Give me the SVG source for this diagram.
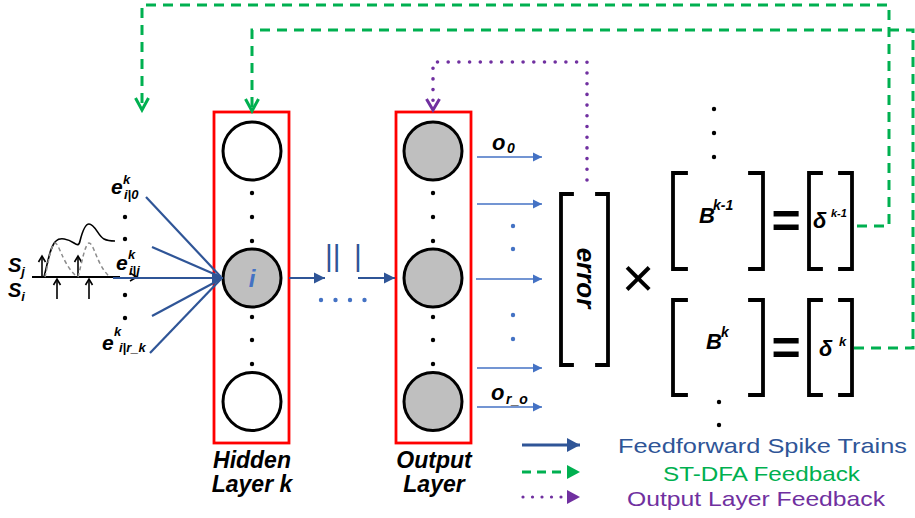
<svg xmlns="http://www.w3.org/2000/svg" width="915" height="518" viewBox="0 0 915 518">
<style>
.bi{font-family:"Liberation Sans",Arial,sans-serif;font-weight:bold;font-style:italic;fill:#000}
.lg{font-family:"Liberation Sans",Arial,sans-serif;font-size:21px}
.box{fill:none;stroke:#FF0000;stroke-width:2.8}
.cw{fill:#fff;stroke:#000;stroke-width:3}
.cg{fill:#BFBFBF;stroke:#000;stroke-width:3}
.br{fill:none;stroke:#000;stroke-width:3.8;stroke-linecap:square}
.dot{fill:#000}
.bd{fill:#4472C4}
.ff{fill:none;stroke:#2F5597;stroke-width:2.2}
.out{fill:none;stroke:#4472C4;stroke-width:1.6}
.gd{fill:none;stroke:#00B050;stroke-width:3;stroke-dasharray:10 7}
.pd{fill:none;stroke:#7030A0;stroke-width:3.6;stroke-linecap:round;stroke-dasharray:0 10.7}
.eq{font-family:"Liberation Sans",Arial,sans-serif;font-size:50px;font-weight:bold}
</style>
<defs>
<marker id="ab" markerUnits="userSpaceOnUse" markerWidth="16" markerHeight="14" viewBox="-12 -7 14 14" refX="0" refY="0" orient="auto"><path d="M-11,-5.5 L0,0 L-11,5.5 z" fill="#2F5597"/></marker>
<marker id="al" markerUnits="userSpaceOnUse" markerWidth="12" markerHeight="10" viewBox="-10 -5 11 10" refX="0" refY="0" orient="auto"><path d="M-9,-4.5 L0,0 L-9,4.5 z" fill="#4472C4"/></marker>
<marker id="ag" markerUnits="userSpaceOnUse" markerWidth="18" markerHeight="20" viewBox="-15 -10 18 20" refX="0" refY="0" orient="auto"><path d="M-12,-6.5 L0,0 L-12,6.5" fill="none" stroke="#00B050" stroke-width="3"/></marker>
<marker id="ap" markerUnits="userSpaceOnUse" markerWidth="18" markerHeight="20" viewBox="-15 -10 18 20" refX="0" refY="0" orient="auto"><path d="M-11,-6.5 L0,0 L-11,6.5" fill="none" stroke="#7030A0" stroke-width="3"/></marker>
<marker id="lb" markerUnits="userSpaceOnUse" markerWidth="16" markerHeight="16" viewBox="-14 -8 16 16" refX="0" refY="0" orient="auto"><path d="M-13,-7 L0,0 L-13,7 z" fill="#2F5597"/></marker>
<marker id="lgm" markerUnits="userSpaceOnUse" markerWidth="16" markerHeight="16" viewBox="-14 -8 16 16" refX="0" refY="0" orient="auto"><path d="M-13,-7 L0,0 L-13,7 z" fill="#00B050"/></marker>
<marker id="lp" markerUnits="userSpaceOnUse" markerWidth="16" markerHeight="16" viewBox="-14 -8 16 16" refX="0" refY="0" orient="auto"><path d="M-13,-7 L0,0 L-13,7 z" fill="#7030A0"/></marker>
</defs>

<!-- spike train inset -->
<g id="spikes">
<line x1="32" y1="277" x2="120" y2="277" stroke="#000" stroke-width="1.8"/>
<path d="M130,273 L137,277 L130,281" fill="none" stroke="#000" stroke-width="1.5"/>
<g stroke="#000" stroke-width="1.6" fill="none">
<line x1="42" y1="277" x2="42" y2="257"/><path d="M38.5,262 L42,256 L45.5,262"/>
<line x1="78" y1="277" x2="78" y2="257"/><path d="M74.5,262 L78,256 L81.5,262"/>
<line x1="57" y1="299" x2="57" y2="280"/><path d="M53.5,285 L57,279 L60.5,285"/>
<line x1="89" y1="299" x2="89" y2="280"/><path d="M85.5,285 L89,279 L92.5,285"/>
</g>
<path d="M44,277 C48,262 50,246 56,241 C60,237 68,239 74,243 C77,245 79,246 80,241 C82,233 85,224 89,224 C95,224 98,236 104,239 C108,241 112,241 115,241" fill="none" stroke="#000" stroke-width="1.6"/>
<path d="M45,277 C48,264 51,244 55,243 C59,243 62,262 75,275 M78,277 C82,262 85,244 89,243 C94,243 97,266 110,277" fill="none" stroke="#8C8C8C" stroke-width="1.5" stroke-dasharray="4 3"/>
<text class="bi" x="8" y="272" font-size="20">S<tspan font-size="13" dy="4">j</tspan></text>
<text class="bi" x="8" y="297" font-size="20">S<tspan font-size="13" dy="4">i</tspan></text>
</g>

<!-- input labels -->
<g id="inputs">
<text class="bi" font-size="21"><tspan x="111" y="194">e</tspan><tspan x="123" y="184" font-size="13">k</tspan><tspan x="124" y="199" font-size="13">i|0</tspan></text>
<text class="bi" font-size="21"><tspan x="116" y="270">e</tspan><tspan x="128" y="259" font-size="13">k</tspan><tspan x="129" y="275" font-size="13">i|j</tspan></text>
<text class="bi" font-size="21"><tspan x="102" y="350">e</tspan><tspan x="114" y="336" font-size="13">k</tspan><tspan x="119" y="352" font-size="13">i|r_k</tspan></text>
<circle class="dot" cx="125" cy="217" r="2.2"/>
<circle class="dot" cx="125" cy="239" r="2.2"/>
<circle class="dot" cx="125" cy="295" r="2.2"/>
<circle class="dot" cx="125" cy="318" r="2.2"/>
</g>

<!-- hidden layer -->
<g id="hidden-layer">
<rect class="box" x="214" y="112" width="75" height="331"/>
<circle class="cw" cx="252" cy="151" r="29"/>
<circle class="cg" cx="252" cy="278" r="29"/>
<circle class="cw" cx="252" cy="401.5" r="29"/>
<g class="dot"><circle cx="252" cy="193" r="2.2"/><circle cx="252" cy="217" r="2.2"/><circle cx="252" cy="241" r="2.2"/><circle cx="252" cy="317" r="2.2"/><circle cx="252" cy="340" r="2.2"/><circle cx="252" cy="364" r="2.2"/></g>
<text class="bi" x="252" y="287" font-size="24" text-anchor="middle" style="fill:#4472C4">i</text>
<text class="bi" x="252" y="468" font-size="23" text-anchor="middle">Hidden</text>
<text class="bi" x="252" y="492" font-size="23" text-anchor="middle">Layer k</text>
</g>

<!-- output layer -->
<g id="output-layer">
<rect class="box" x="396" y="112" width="75" height="331"/>
<circle class="cg" cx="433" cy="151" r="29"/>
<circle class="cg" cx="433" cy="278" r="29"/>
<circle class="cg" cx="433" cy="401.5" r="29"/>
<g class="dot"><circle cx="433" cy="193" r="2.2"/><circle cx="433" cy="217" r="2.2"/><circle cx="433" cy="241" r="2.2"/><circle cx="433" cy="317" r="2.2"/><circle cx="433" cy="340" r="2.2"/><circle cx="433" cy="364" r="2.2"/></g>
<text class="bi" x="434" y="468" font-size="23" text-anchor="middle">Output</text>
<text class="bi" x="434" y="492" font-size="23" text-anchor="middle">Layer</text>
<text class="bi" font-size="22"><tspan x="492" y="150">o</tspan><tspan x="507" y="153" font-size="14">0</tspan></text>
<text class="bi" font-size="22"><tspan x="491" y="400">o</tspan><tspan x="506" y="404" font-size="14">r_o</tspan></text>
<g class="bd"><circle cx="513" cy="226" r="2.2"/><circle cx="513" cy="249" r="2.2"/><circle cx="513" cy="315" r="2.2"/><circle cx="513" cy="339" r="2.2"/></g>
</g>

<!-- error x B = delta -->
<g id="error">
<path class="br" d="M572,194 H561 V365 H572 M597,194 H608 V365 H597"/>
<text class="bi" font-size="26" text-anchor="middle" transform="translate(577,278) rotate(90)">error</text>
</g>
<g id="times">
<text x="638" y="297" font-family="Liberation Sans,Arial,sans-serif" font-size="56" text-anchor="middle">×</text>
</g>
<g id="B-k-1">
<path class="br" d="M686,173 H673 V269 H686 M750,173 H763 V269 H750"/>
<text class="bi" font-size="22"><tspan x="699" y="223">B</tspan><tspan x="713" y="210" font-size="14">k-1</tspan></text>
<text class="eq" x="786" y="238" text-anchor="middle">=</text>
</g>
<g id="delta-k-1">
<path class="br" d="M821,173 H809 V269 H821 M840,173 H852 V269 H840"/>
<text class="bi" font-size="22"><tspan x="813" y="228">δ</tspan><tspan x="831" y="217" font-size="11">k-1</tspan></text>
</g>
<g id="B-k">
<path class="br" d="M686,300 H673 V395 H686 M750,300 H763 V395 H750"/>
<text class="bi" font-size="22"><tspan x="706" y="349">B</tspan><tspan x="721" y="337" font-size="14">k</tspan></text>
<text class="eq" x="786" y="365" text-anchor="middle">=</text>
</g>
<g id="delta-k">
<path class="br" d="M821,300 H809 V395 H821 M840,300 H852 V395 H840"/>
<text class="bi" font-size="22"><tspan x="819" y="356">δ</tspan><tspan x="839" y="346" font-size="13">k</tspan></text>
</g>
<g id="matrix-dots" class="dot">
<circle cx="714" cy="109" r="2.2"/><circle cx="714" cy="133" r="2.2"/><circle cx="714" cy="157" r="2.2"/>
<circle cx="719" cy="402" r="2.2"/><circle cx="719" cy="425" r="2.2"/>
</g>

<!-- connectors -->
<g id="connectors">
<line class="ff" x1="146" y1="197" x2="221" y2="277"/>
<line class="ff" x1="152" y1="247" x2="221" y2="277"/>
<line class="ff" x1="113" y1="278" x2="223" y2="278" marker-end="url(#ab)"/>
<line class="ff" x1="152" y1="316" x2="221" y2="279"/>
<line class="ff" x1="150" y1="353" x2="221" y2="279"/>
<line class="ff" x1="289" y1="278" x2="325" y2="278" marker-end="url(#ab)"/>
<line class="ff" x1="358" y1="278" x2="395" y2="278" marker-end="url(#ab)"/>
<text x="0" y="0" font-family="Liberation Sans,Arial,sans-serif" font-size="30" fill="#2F5597"><tspan x="325" y="266">||</tspan><tspan x="354" y="266">|</tspan></text>
<g fill="#4472C4"><circle cx="321" cy="300" r="2.2"/><circle cx="335.5" cy="300" r="2.2"/><circle cx="350" cy="300" r="2.2"/><circle cx="364.5" cy="300" r="2.2"/></g>
<line class="out" x1="477" y1="157" x2="542" y2="157" marker-end="url(#al)"/>
<line class="out" x1="477" y1="204" x2="542" y2="204" marker-end="url(#al)"/>
<line class="out" x1="476" y1="279" x2="542" y2="279" marker-end="url(#al)"/>
<line class="out" x1="477" y1="368" x2="542" y2="368" marker-end="url(#al)"/>
<line class="out" x1="477" y1="407" x2="542" y2="407" marker-end="url(#al)"/>
<path class="gd" d="M857,226 H889 V5 H142 V110" marker-end="url(#ag)"/>
<path class="gd" d="M854,348 H913 V30 H252 V111" marker-end="url(#ag)"/>
<path class="pd" d="M587,180 V62 H433 V110" marker-end="url(#ap)"/>
</g>

<!-- legend -->
<g id="legend">
<line x1="522" y1="445" x2="580" y2="445" stroke="#2F5597" stroke-width="3" marker-end="url(#lb)"/>
<line x1="522" y1="472" x2="580" y2="472" stroke="#00B050" stroke-width="3" stroke-dasharray="9 6" marker-end="url(#lgm)"/>
<line x1="523" y1="497" x2="580" y2="497" stroke="#7030A0" stroke-width="3.2" stroke-linecap="round" stroke-dasharray="0 9.5" marker-end="url(#lp)"/>
<text class="lg" x="618" y="453" fill="#2F5597" textLength="289" lengthAdjust="spacingAndGlyphs">Feedforward Spike Trains</text>
<text class="lg" x="663" y="481" fill="#00B050" textLength="197" lengthAdjust="spacingAndGlyphs">ST-DFA Feedback</text>
<text class="lg" x="627" y="506" fill="#7030A0" textLength="258" lengthAdjust="spacingAndGlyphs">Output Layer Feedback</text>
</g>
</svg>
